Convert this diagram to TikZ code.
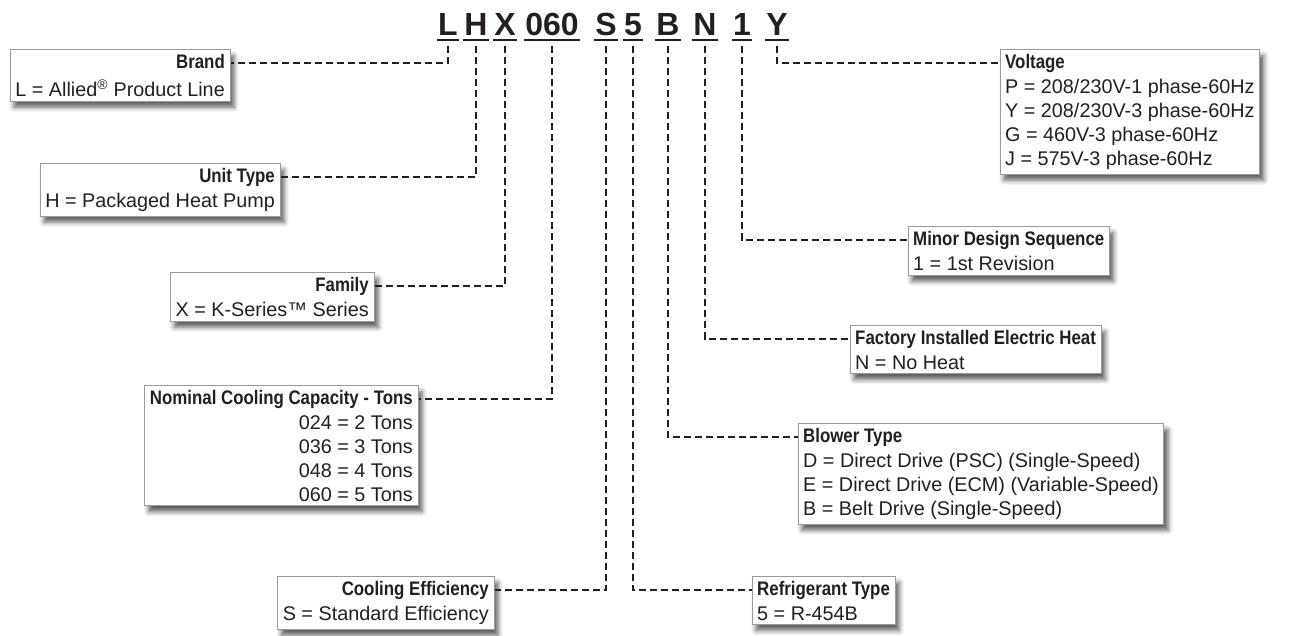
\documentclass[tikz,border=0pt]{standalone}
\usepackage{fontspec}
\setmainfont{Liberation Sans}
\newfontfamily\titlefont{Liberation Sans}[FakeStretch=0.86]
\usetikzlibrary{positioning, fit, backgrounds, shadows.blur}
\definecolor{ink}{HTML}{231F20}
\definecolor{rim}{HTML}{9A9A9A}

\begin{document}
\begin{tikzpicture}[
    x=1pt, y=-1pt,
    font=\fontsize{19.8}{24}\selectfont, text=ink,
    code/.style={font=\bfseries\fontsize{32}{32}\selectfont, inner xsep=1pt, inner ysep=0pt, text height=23pt, text depth=5pt, anchor=base},
    ttl/.style={font=\titlefont\bfseries\fontsize{19.6}{24}\selectfont, inner sep=0pt, text height=14pt, text depth=4pt},
    lbody/.style={inner sep=0pt, align=right, anchor=north east},
    rbody/.style={inner sep=0pt, align=left, anchor=north west},
    frame/.style={draw=rim, line width=1pt, fill=white, inner xsep=5pt, inner ysep=4pt, blur shadow={shadow xshift=4pt, shadow yshift=-6pt, shadow blur radius=5pt, shadow opacity=65}},
    link/.style={draw=ink, line width=2.4pt, dash pattern=on 7pt off 4pt, shorten <=6pt}
]
\useasboundingbox (0,0) rectangle (1298,635);

% Model number
\foreach \nm/\x in {L/448, H/476, X/505, 060/552, S/606, 5/633, B/668, N/705, 1/742, Y/777} {
    \node[code] (c\nm) at (\x,35) {\nm};
    \draw[ink, line width=2.5pt] (c\nm.south west) -- (c\nm.south east);
}

% Left boxes
\node[ttl, anchor=east] (brandT) at (225,63) {Brand};
\node[lbody] (brandB) at ([yshift=-7pt]brandT.south east) {L = Allied\textsuperscript{®} Product Line};

\node[ttl, anchor=east] (unitT) at (275,177) {Unit Type};
\node[lbody] (unitB) at ([yshift=-7pt]unitT.south east) {H = Packaged Heat Pump};

\node[ttl, anchor=east] (familyT) at (369,286) {Family};
\node[lbody] (familyB) at ([yshift=-7pt]familyT.south east) {X = K-Series™ Series};

\node[ttl, anchor=east] (tonsT) at (413,399) {Nominal Cooling Capacity - Tons};
\node[lbody] (tonsB) at ([yshift=-7pt]tonsT.south east) {024 = 2 Tons\\036 = 3 Tons\\048 = 4 Tons\\060 = 5 Tons};

\node[ttl, anchor=east] (coolT) at (489,590) {Cooling Efficiency};
\node[lbody] (coolB) at ([yshift=-7pt]coolT.south east) {S = Standard Efficiency};

% Right boxes
\node[ttl, anchor=west] (voltT) at (1005,63) {Voltage};
\node[rbody] (voltB) at ([yshift=-7pt]voltT.south west) {P = 208/230V-1 phase-60Hz\\Y = 208/230V-3 phase-60Hz\\G = 460V-3 phase-60Hz\\J = 575V-3 phase-60Hz};

\node[ttl, anchor=west] (minorT) at (913,240) {Minor Design Sequence};
\node[rbody] (minorB) at ([yshift=-7pt]minorT.south west) {1 = 1st Revision};

\node[ttl, anchor=west] (heatT) at (855,339) {Factory Installed Electric Heat};
\node[rbody] (heatB) at ([yshift=-7pt]heatT.south west) {N = No Heat};

\node[ttl, anchor=west] (blowerT) at (803,437) {Blower Type};
\node[rbody] (blowerB) at ([yshift=-7pt]blowerT.south west) {D = Direct Drive (PSC) (Single-Speed)\\E = Direct Drive (ECM) (Variable-Speed)\\B = Belt Drive (Single-Speed)};

\node[ttl, anchor=west] (refrigT) at (757,590) {Refrigerant Type};
\node[rbody] (refrigB) at ([yshift=-7pt]refrigT.south west) {5 = R-454B};

\begin{scope}[on background layer]
    \foreach \nm in {brand, unit, family, tons, cool, volt, minor, heat, blower, refrig}
        \node[frame, fit=(\nm T)(\nm B)] (\nm F) {};
\end{scope}

% Connectors
\draw[link] (cL.south) |- (brandT.east -| brandF.east);
\draw[link] (cH.south) |- (unitT.east -| unitF.east);
\draw[link] (cX.south) |- (familyT.east -| familyF.east);
\draw[link] (c060.south) |- (tonsT.east -| tonsF.east);
\draw[link] (cS.south) |- (coolT.east -| coolF.east);
\draw[link] (c5.south) |- (refrigT.west -| refrigF.west);
\draw[link] (cB.south) |- (blowerT.west -| blowerF.west);
\draw[link] (cN.south) |- (heatT.west -| heatF.west);
\draw[link] (c1.south) |- (minorT.west -| minorF.west);
\draw[link] (cY.south) |- (voltT.west -| voltF.west);
\end{tikzpicture}
\end{document}
